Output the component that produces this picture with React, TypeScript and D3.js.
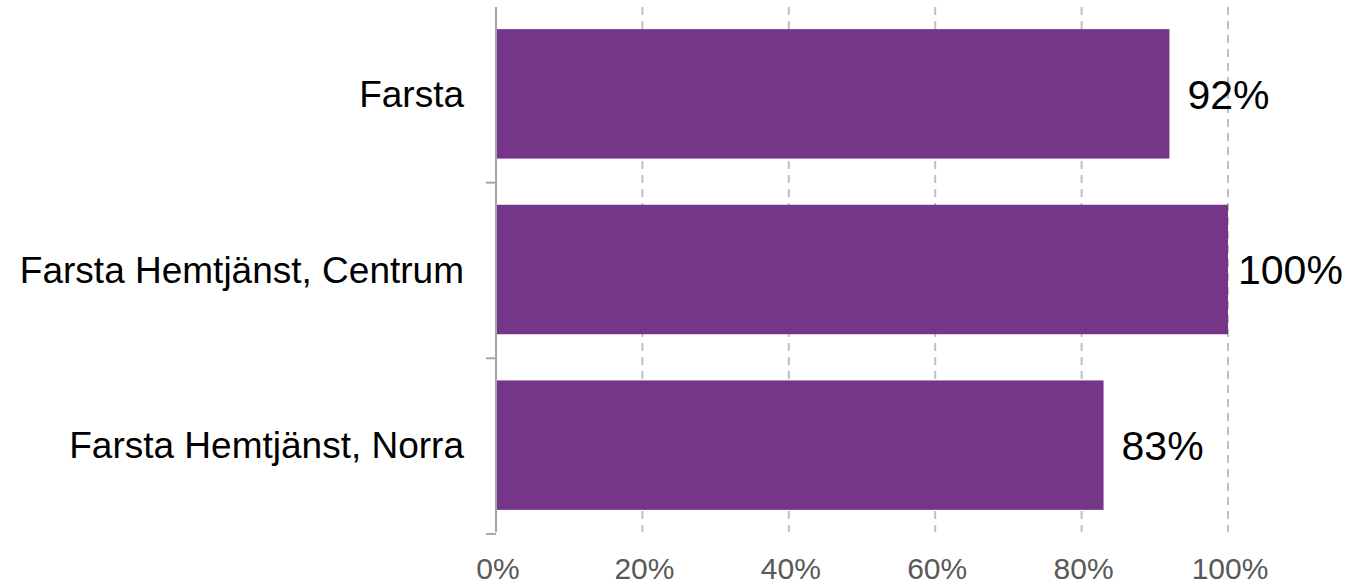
import React from "react";
import * as d3 from "d3";

const categories = ["Farsta", "Farsta Hemtjänst, Centrum", "Farsta Hemtjänst, Norra"];
const values = [0.92, 1.0, 0.83];
const xTicks = [0, 0.2, 0.4, 0.6, 0.8, 1.0];

const W = 1370;
const H = 587;
const margin = { left: 496, right: 142, top: 7, bottom: 55 };
const FONT = "'Liberation Sans', Arial, sans-serif";

export default function App() {
  const x = d3.scaleLinear().domain([0, 1]).range([margin.left, W - margin.right]);
  const y = d3
    .scaleBand<string>()
    .domain(categories)
    .range([margin.top, H - margin.bottom])
    .paddingInner(0.263)
    .paddingOuter(0.126);
  const step = y.step();
  const pct = d3.format(".0%");
  const yTop = margin.top;
  const yBot = H - margin.bottom;
  const boundaries = categories.map((c) => (y(c) as number) - y.paddingOuter() * step + step);

  return (
    <svg width={W} height={H} style={{ position: "absolute", left: 0, top: 0, background: "#fff" }}>
      {xTicks.slice(1).map((t) => (
        <line key={t} x1={x(t)} x2={x(t)} y1={yTop} y2={yBot} stroke="#bfbfbf" strokeWidth={2} strokeDasharray="8 6" />
      ))}
      {categories.map((c, i) => (
        <rect key={c} x={x(0)} y={y(c)} width={x(values[i]) - x(0)} height={y.bandwidth()} fill="#75368a" />
      ))}
      <line x1={x(0)} x2={x(0)} y1={yTop} y2={yBot} stroke="#a6a6a6" strokeWidth={2} />
      {boundaries.map((b, i) => (
        <line key={i} x1={x(0) - 10} x2={x(0)} y1={b} y2={b} stroke="#a6a6a6" strokeWidth={2} />
      ))}
      {categories.map((c) => (
        <text
          key={c}
          x={x(0) - 32}
          y={(y(c) as number) + y.bandwidth() / 2}
          dy="0.36em"
          textAnchor="end"
          fontFamily={FONT}
          fontSize={37}
          fill="#000"
        >
          {c}
        </text>
      ))}
      {categories.map((c, i) => (
        <text
          key={c}
          x={x(values[i]) + (values[i] >= 1 ? 10 : 18)}
          y={(y(c) as number) + y.bandwidth() / 2}
          dy="0.36em"
          fontFamily={FONT}
          fontSize={41}
          fill="#000"
        >
          {pct(values[i])}
        </text>
      ))}
      {xTicks.map((t) => (
        <text key={t} x={x(t) + 2} y={yBot + 47} textAnchor="middle" fontFamily={FONT} fontSize={30} fill="#595959">
          {pct(t)}
        </text>
      ))}
    </svg>
  );
}
